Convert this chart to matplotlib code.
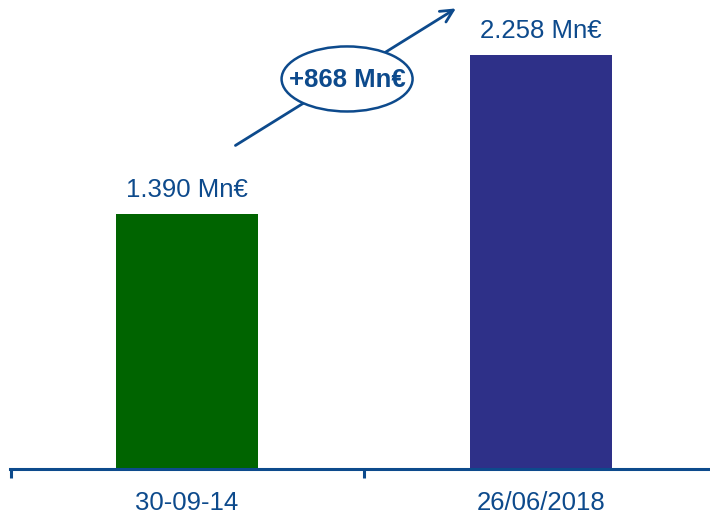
import matplotlib.pyplot as plt
from matplotlib.patches import Ellipse

# fondos gestionados: comparativa entre dos fechas

categories = ['30-09-14', '26/06/2018']
values = [1390, 2258]
labels = ['1.390 Mn€', '2.258 Mn€']
colors = ['#006400', '#2e3088']
diff_label = '+868 Mn€'

text_color = '#0d4a8c'
plt.rcParams['font.family'] = ['Liberation Sans', 'DejaVu Sans']

fig = plt.figure(figsize=(7.10, 5.16), dpi=100)
ax = fig.add_axes([10 / 710, 47 / 516, 700 / 710, 469 / 516])

x = range(len(categories))
ax.bar(x, values, width=0.4, color=colors, zorder=2)
for xi, v, lab in zip(x, values, labels):
    ax.text(xi, v + 68, lab, ha='center', va='bottom', fontsize=18.5, color=text_color)

ax.set_xlim(-0.5, 1.477)
ax.set_ylim(0, 2560)

# axis line with separators between categories
for s in ['top', 'right', 'left']:
    ax.spines[s].set_visible(False)
ax.spines['bottom'].set_color(text_color)
ax.spines['bottom'].set_linewidth(2.2)
ax.set_yticks([])
ax.set_xticks([-0.497, 0.5])
ax.set_xticklabels([])
ax.set_xticks(list(x), minor=True)
ax.set_xticklabels(categories, minor=True, fontsize=18.5, color=text_color)
ax.tick_params(axis='x', which='major', direction='out', length=6.5, width=2.2, color=text_color)
ax.tick_params(axis='x', which='minor', length=0, pad=16)

# growth arrow with ellipse label
ax.annotate('', xy=(0.766, 2522), xytext=(0.13, 1758),
            arrowprops=dict(arrowstyle='->,head_length=0.9,head_width=0.45', color=text_color, lw=2),
            zorder=3)
ell = Ellipse((0.452, 2129), 0.37, 355, facecolor='white', edgecolor=text_color, lw=1.8, zorder=4)
ax.add_patch(ell)
ax.text(0.452, 2125, diff_label, ha='center', va='center', fontsize=18.5, fontweight='bold',
        color=text_color, zorder=5)

fig.savefig('out.png', dpi=100)
